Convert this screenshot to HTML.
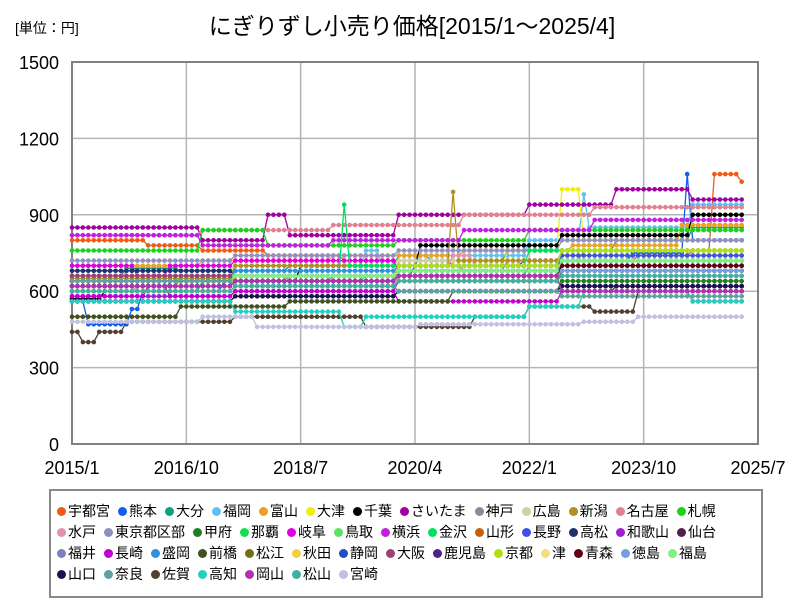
<!DOCTYPE html>
<html><head><meta charset="utf-8">
<style>
body{margin:0;background:#fff;width:800px;height:600px;overflow:hidden;font-family:"Liberation Sans","Noto Sans CJK JP",sans-serif;}
#wrap{position:relative;width:800px;height:600px;}
#legend{position:absolute;left:49px;top:489px;width:704px;height:95px;border:2px solid #888;box-sizing:content-box;padding:10px 0 0 6px;display:flex;flex-wrap:wrap;align-content:flex-start;font-size:14px;line-height:21px;}
.li{margin-right:8px;white-space:nowrap;color:#000}
.dot{display:inline-block;width:9px;height:9px;border-radius:50%;margin-right:2px;vertical-align:0px}
</style></head><body>
<div id="wrap">
<svg id="svg" width="800" height="600" style="position:absolute;left:0;top:0"></svg>
<div id="legend"></div>
</div>
<script>
const names=["宇都宮","熊本","大分","福岡","富山","大津","千葉","さいたま","神戸","広島","新潟","名古屋","札幌","水戸","東京都区部","甲府","那覇","岐阜","鳥取","横浜","金沢","山形","長野","高松","和歌山","仙台","福井","長崎","盛岡","前橋","松江","秋田","静岡","大阪","鹿児島","京都","津","青森","徳島","福島","山口","奈良","佐賀","高知","岡山","松山","宮崎"];
const colors=["#f05a14","#1060e8","#10a080","#60c0f0","#f0a020","#f0f000","#000000","#a000a0","#8090a0","#d0d0a0","#b09020","#e08090","#20d020","#e090b0","#9090c0","#208020","#10e050","#e000e0","#60e060","#c020e0","#00e060","#c06010","#4050e0","#203070","#a020d0","#502050","#8080c0","#c000d0","#3090e0","#405020","#707010","#f0d040","#2050c0","#a04070","#502090","#b0e010","#f0e080","#600010","#70a0e0","#80f080","#201050","#60a0a0","#504030","#20d0c0","#b030b0","#40b0a0","#c0c0e0"];
const seriesRLE=[
"800:14,780:10,760:12,740:14,720:20,700:20,720:14,740:10,760:4,1060:5,1030:1",
"560:3,470:8,530:2,600:15,640:20,660:15,700:20,720:20,750:10,1060:1,800:10",
"660:10,690:10,680:20,700:20,740:6,720:14,760:20,800:14,850:10",
"640:24,660:20,700:10,760:3,700:7,740:20,800:10,980:1,850:19,940:10",
"700:24,720:24,740:24,760:20,780:20,860:12",
"620:20,640:20,660:20,700:20,760:10,1000:4,800:20,900:10",
"570:6,600:18,640:18,700:22,780:26,820:24,900:10",
"850:24,800:12,900:4,820:20,900:24,940:16,1000:14,960:10",
"620:12,600:6,640:12,660:10,640:8,660:12,700:12,680:8,720:10,700:34",
"680:30,700:30,720:30,760:34",
"650:30,700:40,990:1,720:23,760:30",
"820:24,840:24,860:24,900:24,930:28",
"760:24,840:12,780:24,800:24,840:40",
"640:10,680:6,640:14,660:30,700:10,740:4,700:16,760:34",
"720:30,740:30,760:30,800:34",
"560:30,580:30,600:30,640:34",
"600:24,640:30,660:30,700:40",
"700:12,660:6,700:12,720:30,680:30,720:34",
"640:30,660:30,680:30,740:34",
"820:24,780:24,800:24,840:24,880:28",
"620:20,660:30,940:1,700:33,760:40",
"600:30,620:30,660:30,700:34",
"620:30,660:30,700:30,740:34",
"680:30,660:30,640:30,620:34",
"580:30,600:30,640:30,700:34",
"620:30,640:30,660:30,680:34",
"600:30,620:30,640:30,660:34",
"580:14,620:4,580:12,600:30,560:30,600:34",
"660:30,680:30,700:30,720:34",
"500:20,540:20,560:30,600:30,620:24",
"600:30,620:30,640:30,680:34",
"600:30,620:30,660:30,700:34",
"640:30,660:30,680:30,700:34",
"660:30,640:30,660:30,680:34",
"640:30,620:30,600:30,620:34",
"620:30,660:30,700:30,760:34",
"600:30,620:30,640:30,700:34",
"620:30,640:30,660:30,700:34",
"620:30,640:30,660:30,680:34",
"640:30,660:30,680:30,720:34",
"560:30,580:30,600:30,620:34",
"640:30,620:30,600:30,580:34",
"440:2,400:3,440:5,480:20,500:24,460:20,500:10,540:12,520:8,600:10,560:10",
"560:30,520:20,460:4,500:30,540:10,600:20,560:10",
"620:30,640:30,660:30,600:34",
"600:30,620:30,640:30,660:34",
"480:24,500:10,460:30,470:30,480:10,500:20"
];
const yTicks=[0,300,600,900,1200,1500];
const xTickLabels=["2015/1","2016/10","2018/7","2020/4","2022/1","2023/10","2025/7"];
const xTickMonths=[0,21,42,63,84,105,126];
const NM=124;
const L=72,R=758,T=62,B=444;
const xs=m=>L+(R-L)*m/126;
const ys=v=>B-(B-T)*v/1500;
const NS="http://www.w3.org/2000/svg";
const svg=document.getElementById('svg');
function mk(tag,attrs,parent){const e=document.createElementNS(NS,tag);for(const k in attrs)e.setAttribute(k,attrs[k]);(parent||svg).appendChild(e);return e;}
function txt(x,y,s,size,anchor,name){const t=mk('text',{x:x,y:y,'font-size':size,'text-anchor':anchor,'font-family':'"Liberation Sans","Noto Sans CJK JP",sans-serif',fill:'#000'});t.textContent=s;

return t;}
txt(15,33,"[単位：円]",14,"start","unit-label");
txt(412,34,"にぎりずし小売り価格[2015/1～2025/4]",23,"middle","chart-title");
yTicks.forEach(v=>{const y=ys(v);
 const g=mk('line',{x1:L,x2:R,y1:y,y2:y,stroke:'#b4b4b4','stroke-width':1.5});
 
 
 txt(L-13,y+7,String(v),18,"end","y-tick-label");});
xTickMonths.forEach((m,i)=>{const x=xs(m);
 const g=mk('line',{x1:x,x2:x,y1:T,y2:B,stroke:'#b4b4b4','stroke-width':1.5});
 
 
 txt(x,474,xTickLabels[i],18,"middle","x-tick-label");});
const frame=mk('rect',{x:L,y:T,width:R-L,height:B-T,fill:'none',stroke:'#808080','stroke-width':2});


function decode(s){const out=[];s.split(',').forEach(p=>{const [v,n]=p.split(':').map(Number);for(let i=0;i<n;i++)out.push(v);});while(out.length<NM)out.push(out[out.length-1]);return out.slice(0,NM);}
const leg=document.getElementById('legend');
seriesRLE.forEach((s,si)=>{
 const vals=decode(s);const c=colors[si];
 const g=mk('g',{});
 
 
 const pts=vals.map((v,i)=>xs(i).toFixed(1)+','+ys(v).toFixed(1)).join(' ');
 const pl=mk('polyline',{points:pts,fill:'none',stroke:c,'stroke-width':1.3},g);
 
 
 vals.forEach((v,i)=>{const ci=mk('circle',{cx:xs(i).toFixed(1),cy:ys(v).toFixed(1),r:2.3,fill:c},g);
  
  });
 const li=document.createElement('span');li.className='li';
 
 
 li.innerHTML='<span class="dot" style="background:'+c+'"></span>'+names[si];
 leg.appendChild(li);
});
</script>
</body></html>
